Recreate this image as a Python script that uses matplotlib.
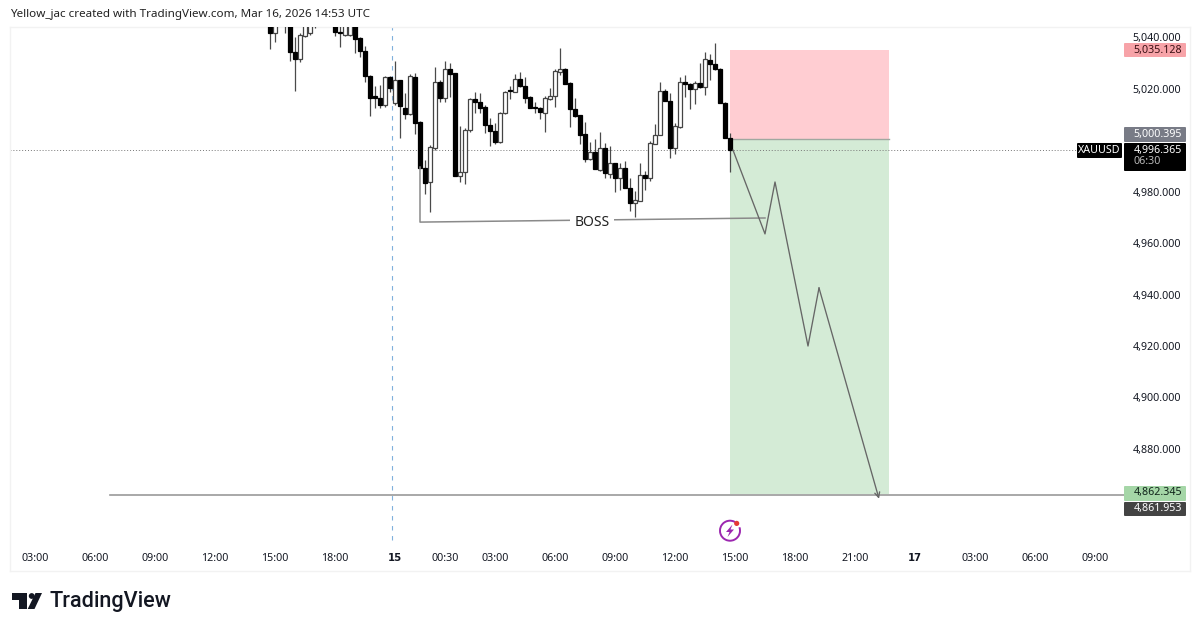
import matplotlib
matplotlib.use('Agg')
import matplotlib.pyplot as plt
from matplotlib.patches import FancyBboxPatch, Rectangle, Circle, Polygon, Arc

plt.rcParams['font.family'] = ['Noto Sans', 'DejaVu Sans']

# candles, first bars run off the top of the pane
opens = [5045.5, 5041.6, 5047, 5047, 5046, 5034.5, 5031.6, 5040.7, 5041.6, 5045, 5047, 5048, 5047, 5046, 5042.3, 5041, 5041, 5046, 5039.7, 5034.9,
         5025.1, 5016.7, 5016.5, 5013.7, 5024.5, 5014.4, 5023.3, 5012.6, 5010.1, 5024.8, 5007.1, 4989.3, 4983.9, 4997.1, 5022.5, 5016.3, 5027.6, 5026, 4986.2, 4987.8,
         5003.9, 5015.9, 5015, 5012.8, 5005.9, 5003.5, 4999.2, 5010.5, 5019.2, 5018.9, 5024, 5021.3, 5017, 5012.7, 5012.7, 5010.6, 5016.1, 5017.2, 5026.6, 5027.7,
         5022.3, 5012.3, 5009.7, 5002.3, 4992.7, 4995.4, 4988.6, 4997, 4987.1, 4991.2, 4985.2, 4989.2, 4981.6, 4975.5, 4976.5, 4986.5, 4985.3, 4998.7, 5002.2, 5019.2,
         5015.4, 4997.1, 5005, 5022.7, 5021.9, 5019.8, 5022.4, 5020.9, 5031.4, 5029.6, 5027.9, 5014.6, 5001]
highs = [5047, 5046, 5048.5, 5048, 5047, 5040.3, 5041.6, 5047, 5046.5, 5047, 5049, 5050, 5049, 5047, 5044.5, 5047, 5046.5, 5047, 5040.3, 5036.7,
         5025.4, 5021.1, 5021.5, 5025.1, 5025, 5030.7, 5023.5, 5018.3, 5025.7, 5026, 5007.4, 4992.3, 4998.2, 5028.6, 5023.5, 5030.7, 5030, 5026.3, 5005.6, 5004.7,
         5016.5, 5018.9, 5018.5, 5013.7, 5008.5, 5006.9, 5011, 5019.2, 5021.1, 5025.8, 5026.4, 5024.8, 5017.2, 5015, 5013.1, 5017.2, 5020.2, 5027.6, 5035.8, 5028,
         5022.5, 5016.6, 5009.8, 5007.2, 4999.5, 5000.4, 5003.4, 4998.8, 4997.8, 4991.3, 4991, 4992, 4985.2, 4980.4, 4991, 4988.2, 4999.9, 5006.3, 5022.5, 5019.8,
         5018.3, 5006.6, 5024.8, 5025.4, 5022.2, 5023.2, 5030, 5034.2, 5033.4, 5038, 5028.3, 5014.8, 5002.7]
lows = [5035.4, 5038.2, 5044.5, 5041.6, 5031, 5019.3, 5030.3, 5040.1, 5041.1, 5043.6, 5045, 5046, 5045, 5040.6, 5036.2, 5040.6, 5040.7, 5033.8, 5032.3, 5022.8,
        5009.6, 5012.4, 5012.4, 5013.1, 5018.9, 5013.7, 5001, 5008.3, 5009.8, 5002.3, 4989.1, 4979, 4972.2, 4996.2, 5015, 5015, 5016.7, 4986.1, 4983.9, 4982.9,
        5003.4, 5010.7, 5010.5, 5002.7, 4997.9, 4998.4, 4998.8, 5010.2, 5016.1, 5018.7, 5020.9, 5014.4, 5012.4, 5010.7, 5008.2, 5003.4, 5015.7, 5012.8, 5025.4, 5021.9,
        5005.3, 5009.2, 4998.6, 4991.7, 4992.3, 4988.7, 4988.2, 4985.2, 4985.2, 4980, 4980.7, 4981.3, 4972.6, 4970.3, 4976.3, 4980.7, 4984.2, 4998.4, 5002.1, 5015.3,
        4993, 4994.5, 5004.7, 5017, 5012, 5014, 5020.2, 5017.6, 5023.5, 5027.3, 5014.4, 5000.8, 4987.8]
closes = [5041.6, 5045, 5048, 5045, 5034.5, 5031.6, 5041, 5045, 5045, 5046.5, 5048, 5047, 5046, 5042.1, 5041.7, 5045.5, 5045.5, 5039.5, 5034.9, 5025,
          5016.5, 5016.6, 5013.9, 5024.8, 5020.2, 5023.3, 5013.5, 5010.1, 5025, 5006.9, 4989.3, 4983.6, 4997.5, 5022.5, 5016.3, 5027.6, 5025.8, 4986.2, 4987.8, 5004,
          5016.2, 5015, 5012.6, 5005.9, 5003.5, 4999.2, 5010.7, 5018.9, 5019, 5024, 5021.3, 5016.6, 5012.7, 5012.5, 5011, 5016.3, 5017.4, 5027.1, 5027.6, 5022,
          5012, 5009.6, 5002.1, 4992.6, 4995.4, 4988.8, 4997, 4987.3, 4991.3, 4985.5, 4989.2, 4981.6, 4975.5, 4976.8, 4986.5, 4985.5, 4999.1, 5002.2, 5019.2, 5015.4,
          4997.1, 5005.6, 5022.8, 5021.8, 5020, 5022.2, 5020.9, 5031.5, 5029.7, 5027.7, 5014.6, 5001, 4996.4]

y_ticks = [5040, 5020, 5000, 4980, 4960, 4940, 4920, 4900, 4880]
y_labels = ['5,040.000', '5,020.000', '', '4,980.000', '4,960.000', '4,940.000', '4,920.000', '4,900.000', '4,880.000']
x_ticks = [-47, -35, -23, -11, 1, 13, 25, 35, 45, 57, 69, 81, 93, 105, 117, 129, 141, 153, 165]
x_labels = ['03:00', '06:00', '09:00', '12:00', '15:00', '18:00', '15', '00:30', '03:00', '06:00', '09:00',
            '12:00', '15:00', '18:00', '21:00', '17', '03:00', '06:00', '09:00']

stop_price = 5035.128
entry_price = 5000.395
target_price = 4862.345
last_price = 4996.365
drawn_level = 4861.953
path_x = [92.6, 99, 101, 107.6, 109.8, 121.8]
path_y = [4996.2, 4963.6, 4983.8, 4920, 4942.6, 4860.6]
boss_x = [30, 30, 99]
boss_y = [4989.6, 4968.2, 4969.8]

fig = plt.figure(figsize=(12, 6.32), dpi=100)
ax = fig.add_axes([10 / 1200, 1 - 571 / 632, 1180 / 1200, 544 / 632])
ax.set_xlim(-52, 184)
ax.set_ylim(4832.5, 5044.08)

# position tool and levels
ax.add_patch(Rectangle((92, entry_price), 31.8, stop_price - entry_price, fc='#ffcdd2', ec='none', zorder=1))
ax.add_patch(Rectangle((92, target_price), 31.8, entry_price - target_price, fc='#d4ebd6', ec='none', zorder=1))
ax.plot([92, 123.8], [entry_price, entry_price], color='#a0a8a0', lw=1, zorder=2)
ax.plot([-32, 171], [drawn_level, drawn_level], color='#9a9a9a', lw=1.2, zorder=2)
ax.plot([24.4, 24.4], [4844.6, 5044.08], color='#7fb0dc', lw=0.8, ls=(0, (4, 5)), zorder=2)
ax.plot([-52, 162], [last_price, last_price], color='#777777', lw=0.7, ls=(0, (1, 2)), zorder=2)

for i in range(len(opens)):
    up = closes[i] >= opens[i]
    ax.vlines(i, lows[i], highs[i], color='#4a4a4a', lw=0.9, zorder=3)
    low_body = min(opens[i], closes[i])
    height = max(abs(closes[i] - opens[i]), 0.5)
    ax.bar(i, height, bottom=low_body, width=0.66, color='white' if up else 'black',
           edgecolor='#444444' if up else 'black', linewidth=0.9, zorder=4)

ax.plot(boss_x, boss_y, color='#8a8a8a', lw=1.1, zorder=5)
ax.text(64.4, 4968, 'BOSS', ha='center', va='center', fontsize=10, color='#222222', zorder=6,
        bbox=dict(fc='white', ec='none', pad=3))
ax.plot(path_x[:-1], path_y[:-1], color='#666666', lw=0.95, zorder=5)
ax.annotate('', xy=(path_x[-1], path_y[-1]), xytext=(path_x[-2], path_y[-2]),
            arrowprops=dict(arrowstyle='->', color='#666666', lw=0.95, shrinkA=0, shrinkB=0, mutation_scale=9), zorder=5)

ax.yaxis.tick_right()
ax.set_yticks(y_ticks)
ax.set_yticklabels(y_labels, ha='right', fontsize=7.7, color='#131722')
ax.tick_params(axis='y', length=0, pad=-6.5)
ax.set_xticks(x_ticks)
ax.set_xticklabels(x_labels, fontsize=7.7, color='#131722')
ax.tick_params(axis='x', length=0, pad=-13)
for lab in ax.get_xticklabels():
    if lab.get_text() in ('15', '17'):
        lab.set_family(['DejaVu Sans'])
        lab.set_fontweight('bold')
        lab.set_fontsize(7.3)
for s in ax.spines.values():
    s.set_color('#f2f2f2')
    s.set_linewidth(1)

# overlay in pixel coordinates for the price tags and logos
ov = fig.add_axes([0, 0, 1, 1], facecolor='none')
ov.set_xlim(0, 1200)
ov.set_ylim(632, 0)
ov.set_axis_off()


def tag(x0, x1, y0, y1, color):
    ov.add_patch(FancyBboxPatch((x0 + 1, y0 + 1), x1 - x0 - 2, y1 - y0 - 2, boxstyle='round,pad=1',
                                fc=color, ec='none', zorder=2))


tag(1124, 1186, 43, 57, '#f7a3a8')
ov.text(1182, 50, '5,035.128', ha='right', va='center', fontsize=7.7, color='#3a1014', zorder=3)
tag(1124, 1186, 127, 142, '#787b86')
ov.text(1182, 134, '5,000.395', ha='right', va='center', fontsize=7.7, color='white', zorder=3)
tag(1124, 1186, 143, 171, 'black')
ov.text(1182, 150, '4,996.365', ha='right', va='center', fontsize=7.7, color='white', zorder=3)
ov.text(1133, 162, '06:30', ha='left', va='center', fontsize=7.7, color='#b8b8b8', zorder=3)
tag(1077, 1122, 143, 158, 'black')
ov.text(1099.5, 150.5, 'XAUUSD', ha='center', va='center', fontsize=7.7, color='white', zorder=3)
tag(1124, 1186, 486, 501, '#a5d6a7')
ov.text(1182, 493, '4,862.345', ha='right', va='center', fontsize=7.7, color='#10241a', zorder=3)
tag(1124, 1186, 502, 516, '#434343')
ov.text(1182, 509, '4,861.953', ha='right', va='center', fontsize=7.7, color='white', zorder=3)

ov.text(10, 15, 'Yellow_jac created with TradingView.com, Mar 16, 2026 14:53 UTC', ha='left', va='center',
        fontsize=8.4, color='#222222')

# earnings style icon
ov.add_patch(Arc((730, 530.7), 20, 20, theta1=-20, theta2=300, color='#9c27b0', lw=1.4))
ov.add_patch(Polygon([(732.5, 524.5), (726, 532), (729.5, 532), (727.5, 537), (734, 529.5), (730.5, 529.5)],
                     fc='#9c27b0', ec='none'))
ov.add_patch(Circle((736.7, 523.4), 2.6, fc='#e53935', ec='none'))

# TradingView mark
ov.add_patch(Polygon([(12, 593), (27, 593), (27, 609), (19, 609), (19, 599.5), (12, 599.5)], fc='#131722', ec='none'))
ov.add_patch(Circle((31.7, 596), 2.9, fc='#131722', ec='none'))
ov.add_patch(Polygon([(35.5, 593), (42, 593), (34.5, 609), (27.7, 609)], fc='#131722', ec='none'))
ov.text(49, 601.5, 'TradingView', ha='left', va='center', fontsize=15.6, fontweight='medium', color='#131722',
        family=['Roboto', 'DejaVu Sans'])

fig.savefig('out.png', dpi=100)
